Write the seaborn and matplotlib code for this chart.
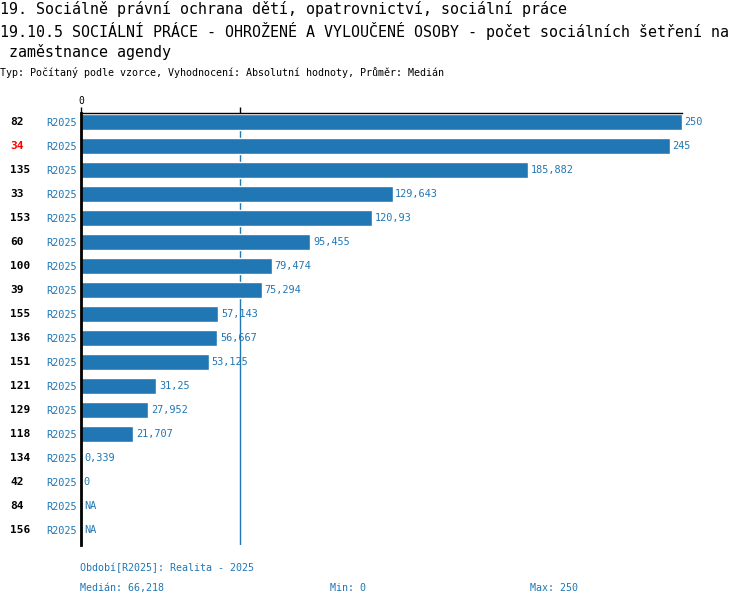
import numpy as np
import pandas as pd
import matplotlib
matplotlib.use("Agg")
import matplotlib.pyplot as plt
import matplotlib.transforms as mtransforms
import seaborn as sns

# data
ids = ["82", "34", "135", "33", "153", "60", "100", "39", "155", "136",
       "151", "121", "129", "118", "134", "42", "84", "156"]
values = [250, 245, 185.882, 129.643, 120.93, 95.455, 79.474, 75.294, 57.143,
          56.667, 53.125, 31.25, 27.952, 21.707, 0.339, 0, np.nan, np.nan]
period = "R2025"
highlight = "34"
median = 66.218
vmin = 0
vmax = 250

title1 = "19. Sociálně právní ochrana dětí, opatrovnictví, sociální práce"
title2 = "19.10.5 SOCIÁLNÍ PRÁCE - OHROŽENÉ A VYLOUČENÉ OSOBY - počet sociálních šetření na"
title3 = " zaměstnance agendy"
subtitle = "Typ: Počítaný podle vzorce, Vyhodnocení: Absolutní hodnoty, Průměr: Medián"
footer1 = "Období[R2025]: Realita - 2025"

blue = "#2077b4"
mono = ["DejaVu Sans Mono"]

sns.set_style("white")
plt.rcParams["font.family"] = mono
plt.rcParams["text.color"] = "black"

df = pd.DataFrame({"id": ids, "value": values})

fig = plt.figure(figsize=(7.5, 6.06), dpi=100)
ax = fig.add_axes([0.108, 0.1007, 0.801, 0.7128])

sns.barplot(data=df, x="value", y="id", order=ids, orient="h", color=blue,
            saturation=1, width=0.67, errorbar=None, ax=ax)

ax.set_xlim(0, 250)
ax.set_ylim(len(ids) - 0.375, -0.36)
ax.set_xlabel("")
ax.set_ylabel("")

# top axis: zero tick plus an unlabeled tick at the median
ax.xaxis.tick_top()
ax.set_xticks([0, median])
ax.set_xticklabels(["0", ""], fontsize=7)
ax.tick_params(axis="x", length=4, pad=1, width=1, colors="black")
ax.get_xticklines()[-1].set_color(blue)
for t in ax.xaxis.get_major_ticks()[1:]:
    t.tick2line.set_color(blue)

ax.set_yticks(range(len(ids)))
ax.set_yticklabels([period] * len(ids), fontsize=7.4, color=blue)
ax.tick_params(axis="y", length=0, pad=3)

for s in ["right", "bottom"]:
    ax.spines[s].set_visible(False)
ax.spines["left"].set_linewidth(2)
ax.spines["left"].set_color("black")
ax.spines["top"].set_linewidth(1)
ax.spines["top"].set_color("black")

ax.axvline(median, color=blue, lw=1, zorder=0.5)

# value labels
for i, v in enumerate(values):
    if np.isnan(v):
        lab, x = "NA", 0
    else:
        lab, x = f"{v:g}".replace(".", ","), v
    ax.annotate(lab, (x, i), xytext=(2, 0), textcoords="offset points",
                va="center", ha="left", fontsize=7.4, color=blue)

# id labels on the far left
trans = mtransforms.blended_transform_factory(fig.transFigure, ax.transData)
for i, name in enumerate(ids):
    ax.text(10 / 750, i, name, transform=trans, ha="left", va="center",
            fontsize=8, fontweight="bold",
            color="red" if name == highlight else "black")

fig.text(0, 1 - 9 / 606, title1, fontsize=10.8, va="center", ha="left")
fig.text(0, 1 - 31 / 606, title2, fontsize=10.8, va="center", ha="left")
fig.text(0, 1 - 52 / 606, title3, fontsize=10.8, va="center", ha="left")
fig.text(0, 1 - 73 / 606, subtitle, fontsize=7.2, va="center", ha="left")

fig.text(80 / 750, 1 - 568 / 606, footer1, fontsize=7.2, va="center", color=blue)
fig.text(80 / 750, 1 - 588 / 606, "Medián: " + f"{median:g}".replace(".", ","),
         fontsize=7.2, va="center", color=blue)
fig.text(330 / 750, 1 - 588 / 606, f"Min: {vmin}", fontsize=7.2, va="center", color=blue)
fig.text(530 / 750, 1 - 588 / 606, f"Max: {vmax}", fontsize=7.2, va="center", color=blue)

fig.savefig("out.png", dpi=100)
